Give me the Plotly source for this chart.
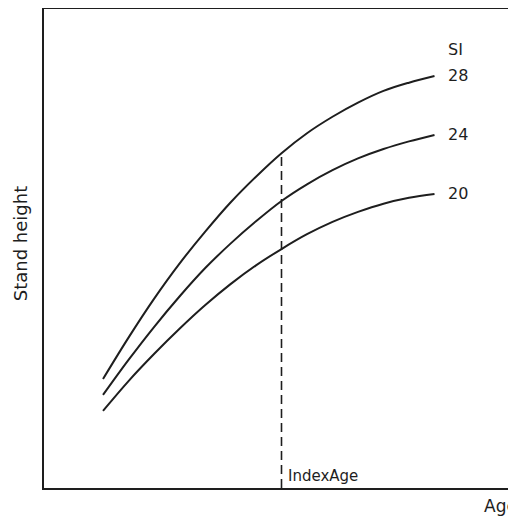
import plotly.graph_objects as go

# Data (heights every 5 years of age)
ages = [15, 20, 25, 30, 35, 40, 45, 50, 55, 60, 65, 70, 75, 80]
si_labels = ["28", "24", "20"]
height_si28 = [8.68, 12.2, 15.5, 18.5, 21.2, 23.7, 25.9, 27.9, 29.6, 31.0, 32.2, 33.2, 33.9, 34.47]
height_si24 = [7.32, 10.3, 13.1, 15.7, 18.1, 20.2, 22.1, 23.83, 25.25, 26.45, 27.45, 28.25, 28.9, 29.45]
height_si20 = [5.96, 8.5, 10.8, 12.95, 14.95, 16.75, 18.35, 19.74, 21.0, 22.05, 22.9, 23.6, 24.1, 24.43]
index_age = 50

x_range = [3.43, 95.98]
y_range = [-0.6, 40.17]

font_family = "DejaVu Sans, sans-serif"
ink = "#1e1e1e"

fig = go.Figure()
series = [height_si28, height_si24, height_si20]
for lab, h in zip(si_labels, series):
    fig.add_trace(go.Scatter(x=ages, y=h, mode="lines",
                             line=dict(color=ink, width=2, shape="spline", smoothing=1),
                             showlegend=False, hoverinfo="skip"))
    fig.add_annotation(x=ages[-1], y=h[-1], text=lab, showarrow=False, xanchor="left", yanchor="middle",
                       xshift=11, yshift=0, font=dict(size=16, color=ink, family=font_family))

fig.add_annotation(x=ages[-1], y=height_si28[-1], text="SI", showarrow=False, xanchor="left", yanchor="middle",
                   xshift=11, yshift=26, font=dict(size=16, color=ink, family=font_family))

# dashed index-age line
idx = ages.index(index_age)
fig.add_trace(go.Scatter(x=[index_age, index_age], y=[y_range[0], height_si28[idx]], mode="lines",
                         line=dict(color=ink, width=1.6, dash="9px,5px"), showlegend=False, hoverinfo="skip"))
fig.add_annotation(x=index_age, y=y_range[0], text="IndexAge", showarrow=False, xanchor="left", yanchor="middle",
                   xshift=4, yshift=12, font=dict(size=15, color=ink, family=font_family))

fig.add_annotation(x=0.928, xref="paper", y=-0.0376, yref="paper", text="Age", showarrow=False,
                   xanchor="left", yanchor="middle", font=dict(size=17, color=ink, family=font_family))

fig.add_annotation(x=-0.0508, xref="paper", y=0.509, yref="paper", text="Stand height", showarrow=False,
                   textangle=-90, xanchor="center", yanchor="middle",
                   font=dict(size=18, color=ink, family=font_family))

fig.update_xaxes(range=x_range, showgrid=False, zeroline=False, showticklabels=False, ticks="",
                 showline=True, linecolor=ink, linewidth=2, mirror=True)
fig.update_yaxes(range=y_range, showgrid=False, zeroline=False, showticklabels=False, ticks="",
                 showline=True, linecolor=ink, linewidth=2, mirror=False)

fig.update_layout(width=508, height=509, margin=dict(l=36, r=0, t=1, b=29),
                  paper_bgcolor="white", plot_bgcolor="white",
                  font=dict(family=font_family, color=ink))

fig.write_html("out.html")
